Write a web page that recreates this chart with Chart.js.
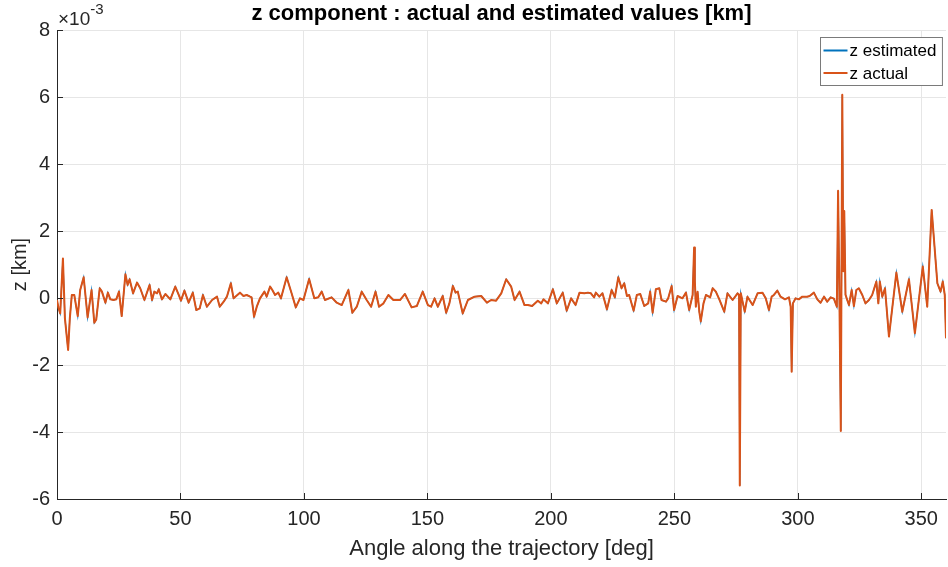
<!DOCTYPE html>
<html lang="en">
<head>
<meta charset="UTF-8">
<title>z component : actual and estimated values</title>
<script src="https://cdn.jsdelivr.net/npm/chart.js"></script>
<style>
  html, body { margin: 0; padding: 0; background: #fff; }
  #wrap { width: 948px; height: 567px; }
</style>
</head>
<body>
<div id="wrap"><canvas id="zChart"></canvas></div>
<script>
// angle along the trajectory [deg]
const angleDeg = [
  0, 0.6, 1.3, 2.4, 3.2, 4.5, 5.2, 6.0, 7.0, 8.4, 9.4, 10.8, 12.4, 14.0, 15.1, 15.9, 17.3, 18.2, 19.6, 20.6,
  21.6, 22.9, 24.0, 25.1, 26.2, 27.7, 28.6, 29.4, 30.8, 32.4, 33.7, 35.4, 37.5, 38.5, 39.4, 40.5, 41.2, 42.5, 43.9, 45.9,
  47.9, 49.3, 50.2, 51.6, 53.3, 55.0, 56.4, 57.8, 59.1, 60.7, 62.8, 64.8, 65.9, 67.5, 68.8, 70.4, 71.5,
  74.1, 75.5, 76.8, 78.2, 78.8, 79.8, 80.9, 82.2, 84.0, 84.9, 86.3, 87.2, 88.3, 89.6, 90.7, 93.0, 95.0, 96.7, 98.4, 99.8,
  102.1, 104.2, 105.8, 107.2, 108.5, 111.2, 113.3, 115.3, 118.0, 119.6, 121.4, 123.4, 125.4, 127.2, 129.0, 130.4, 132.2,
  134.2, 136.2, 138.9, 140.9, 143.6,
  145.7, 148.1, 150.2, 151.5, 152.9, 154.2, 156.2, 157.6, 158.9, 160.3, 161.4, 162.3, 164.3, 166.4, 169.1, 171.8, 174.1,
  175.8, 177.8, 179.9, 181.9, 183.9, 185.3, 187.3, 189.3, 190.7, 192.4, 194.7, 196.1, 197.0, 198.8, 200.8, 202.4, 204.8,
  206.4, 208.2, 210.0, 211.6, 213.6, 215.0,
  216.2, 217.5, 218.2, 219.6, 220.9, 222.7, 224.6, 225.9, 227.3, 228.6, 229.7, 230.8, 231.7, 233.5, 234.8, 236.2, 237.8,
  239.4, 240.2, 241.2, 242.5, 243.9, 244.8, 246.6, 247.5, 248.9, 249.9, 251.3, 253.3, 254.7, 256.0, 257.4, 258.0, 258.3,
  258.7, 259.4, 260.1, 260.7, 261.8, 262.8, 264.5, 265.5, 266.8, 268.2, 270.2, 271.5, 273.6, 275.6, 276.2, 276.5, 276.9,
  278.5, 279.6, 281.7, 283.7, 285.7, 287.0,
  288.3, 289.4, 290.3, 291.7, 293.0, 294.8, 296.4, 297.1, 297.5, 298.0, 299.1, 300.4, 301.8, 303.8, 304.8, 306.5, 307.9,
  309.2, 310.6, 311.9, 313.3, 314.6, 315.8, 316.3, 316.8, 317.4, 318.0, 318.4, 318.8, 319.3, 320.0, 320.7, 321.8, 322.7,
  323.7, 324.7, 326.1, 327.4, 328.8, 330.1, 331.8, 332.6, 333.2, 334.2, 335.3, 336.9, 339.9, 342.3, 345.0, 347.4, 350.6,
  352.4, 354.2, 356.5, 357.8, 358.7, 359.5, 360.0
];

// z actual [km x 1e-3]
const zActual = [
  -0.06, -0.30, -0.46, 1.18, -0.60, -1.55, -0.60, 0.09, 0.09, -0.54, 0.24, 0.62, -0.58, 0.24, -0.74, -0.64, 0.29, 0.19, -0.14, 0.16,
  -0.04, -0.06, -0.04, 0.19, -0.54, 0.71, 0.39, 0.56, 0.14, 0.46, 0.29, -0.06, 0.39, -0.06, 0.19, 0.14, 0.26, -0.04, 0.12, -0.04,
  0.34, 0.09, -0.08, 0.22, -0.14, 0.16, -0.36, -0.31, 0.09, -0.26, -0.06, 0.04, -0.26, -0.11, 0.04, 0.44, -0.01,
  0.16, 0.06, 0.09, 0.04, 0.02, -0.56, -0.26, -0.01, 0.19, 0.04, 0.34, 0.24, 0.09, 0.16, -0.01, 0.62, 0.14, -0.28, -0.01, -0.06,
  0.57, -0.01, 0.02, 0.19, -0.06, 0.02, -0.14, -0.21, 0.24, -0.44, -0.26, 0.19, -0.06, -0.26, 0.19, -0.26, -0.16,
  0.09, -0.06, -0.06, 0.12, -0.28,
  -0.24, 0.19, -0.21, -0.26, -0.01, -0.26, 0.06, -0.44, -0.16, 0.36, 0.16, 0.19, -0.46, -0.06, 0.04, 0.06, -0.14,
  -0.06, -0.08, 0.14, 0.56, 0.34, -0.06, 0.19, -0.21, -0.21, -0.24, -0.08, -0.16, -0.04, -0.16, 0.26, -0.16, 0.16,
  -0.38, -0.01, -0.21, 0.16, 0.14, 0.16,
  0.14, 0.02, 0.16, 0.04, 0.14, -0.34, 0.24, 0.02, 0.62, 0.29, 0.44, 0.06, 0.09, -0.38, 0.09, 0.12, -0.24,
  -0.16, 0.19, -0.44, 0.26, 0.29, -0.06, -0.11, -0.01, 0.36, -0.36, 0.06, -0.01, 0.16, -0.36, 0.09, 1.51, 0.50,
  -0.26, 0.19, -0.41, -0.70, -0.16, 0.09, 0.02, 0.29, 0.19, -0.04, -0.41, 0.14, -0.06, 0.14, 0.09, -5.60, 0.14,
  -0.41, 0.04, -0.21, 0.14, 0.16, -0.01,
  -0.36, 0.04, 0.09, 0.22, 0.04, -0.04, 0.02, -0.26, -2.20, -0.16, -0.01, -0.04, 0.04, 0.04, 0.06, 0.16, -0.04,
  -0.14, 0.04, -0.11, 0.02, -0.02, -0.26, 3.20, 0.30, -3.97, 6.07, 0.80, 2.60, 0.10, -0.06, -0.21, 0.24, -0.24,
  0.24, 0.29, 0.09, -0.16, -0.06, 0.09, 0.49, -0.16, 0.49, 0.04, 0.29, -1.15, 0.76, -0.41, 0.56, -1.05, 0.94,
  -0.26, 2.63, 0.44, 0.19, 0.49, 0.09, -1.20
];

// the estimate lies exactly under the actual trace in the picture
const zEstimated = zActual.slice();

const xTicks = [0, 50, 100, 150, 200, 250, 300, 350];
const yTicks = [-6, -4, -2, 0, 2, 4, 6, 8];
const seriesNames = ['z estimated', 'z actual'];
const seriesColors = ['#0072BD', '#D95319'];

const FONT = '"Liberation Sans", Arial, Helvetica, sans-serif';

const toPoints = ys => angleDeg.map((a, i) => ({ x: a, y: ys[i] }));

// inner tick marks, title, exponent label and the boxed legend (matlab style)
const matlabDecor = {
  id: 'matlabDecor',
  afterDraw(chart) {
    const ctx = chart.ctx;
    const a = chart.chartArea;
    const xs = chart.scales.x;
    const ys = chart.scales.y;
    ctx.save();

    ctx.strokeStyle = '#262626';
    ctx.lineWidth = 1;
    ctx.beginPath();
    xs.ticks.forEach(t => {
      const px = Math.round(xs.getPixelForValue(t.value)) + 0.5;
      ctx.moveTo(px, a.bottom);
      ctx.lineTo(px, a.bottom - 6);
    });
    ys.ticks.forEach(t => {
      const py = Math.round(ys.getPixelForValue(t.value)) + 0.5;
      ctx.moveTo(a.left, py);
      ctx.lineTo(a.left + 6, py);
    });
    ctx.stroke();

    // title
    ctx.fillStyle = '#000';
    ctx.font = 'bold 22px ' + FONT;
    ctx.textAlign = 'center';
    ctx.textBaseline = 'middle';
    ctx.fillText('z component : actual and estimated values [km]', (a.left + a.right) / 2, 14);

    // exponent
    ctx.fillStyle = '#262626';
    ctx.textAlign = 'left';
    ctx.textBaseline = 'alphabetic';
    ctx.font = '19px ' + FONT;
    ctx.fillText('\u00d710', a.left + 1, 25);
    const w = ctx.measureText('\u00d710').width;
    ctx.font = '15px ' + FONT;
    ctx.fillText('-3', a.left + 1 + w, 14);

    // legend
    ctx.font = '17px ' + FONT;
    const textW = Math.max(...seriesNames.map(s => ctx.measureText(s).width));
    const boxW = 3 + 24 + 3 + textW + 5;
    const boxH = 48;
    const bx = Math.round(a.right - 4 - boxW) + 0.5;
    const by = Math.round(a.top + 7) + 0.5;
    ctx.fillStyle = '#fff';
    ctx.fillRect(bx, by, boxW, boxH);
    ctx.strokeStyle = '#7a7a7a';
    ctx.lineWidth = 1;
    ctx.strokeRect(bx, by, boxW, boxH);
    seriesNames.forEach((name, i) => {
      const cy = by + 13 + i * 22.5;
      ctx.strokeStyle = seriesColors[i];
      ctx.lineWidth = 2;
      ctx.beginPath();
      ctx.moveTo(bx + 3, cy);
      ctx.lineTo(bx + 27, cy);
      ctx.stroke();
      ctx.fillStyle = '#000';
      ctx.textBaseline = 'middle';
      ctx.fillText(name, bx + 29, cy + 1);
    });
    ctx.restore();
  }
};

new Chart(document.getElementById('zChart'), {
  type: 'line',
  data: {
    datasets: [
      {
        label: seriesNames[0],
        data: toPoints(zEstimated),
        borderColor: seriesColors[0],
        borderWidth: 1.2,
        pointRadius: 0,
        tension: 0,
        order: 1
      },
      {
        label: seriesNames[1],
        data: toPoints(zActual),
        borderColor: seriesColors[1],
        borderWidth: 2,
        pointRadius: 0,
        tension: 0,
        borderJoinStyle: 'round',
        order: 0
      }
    ]
  },
  options: {
    responsive: true,
    maintainAspectRatio: false,
    animation: false,
    events: [],
    layout: { padding: { top: 30, right: 2, left: 0, bottom: 0 } },
    plugins: {
      legend: { display: false },
      title: { display: false },
      tooltip: { enabled: false }
    },
    scales: {
      x: {
        type: 'linear',
        min: 0,
        max: 360,
        afterBuildTicks: s => { s.ticks = xTicks.map(v => ({ value: v })); },
        afterFit: s => { s.height = 68; },
        grid: { color: '#e6e6e6', drawTicks: false },
        border: { display: true, color: '#262626' },
        ticks: {
          color: '#262626',
          padding: 8,
          maxRotation: 0,
          font: { family: FONT, size: 20 }
        },
        title: {
          display: true,
          text: 'Angle along the trajectory [deg]',
          color: '#262626',
          padding: { top: 0, bottom: 5 },
          font: { family: FONT, size: 22 }
        }
      },
      y: {
        min: -6,
        max: 8,
        afterBuildTicks: s => { s.ticks = yTicks.map(v => ({ value: v })); },
        afterFit: s => { s.width = 57; },
        grid: { color: '#e6e6e6', drawTicks: false },
        border: { display: true, color: '#262626' },
        ticks: {
          color: '#262626',
          padding: 7,
          font: { family: FONT, size: 20 }
        },
        title: {
          display: true,
          text: 'z [km]',
          color: '#262626',
          padding: { top: 8, bottom: 0 },
          font: { family: FONT, size: 20 }
        }
      }
    }
  },
  plugins: [matlabDecor]
});
</script>
</body>
</html>
